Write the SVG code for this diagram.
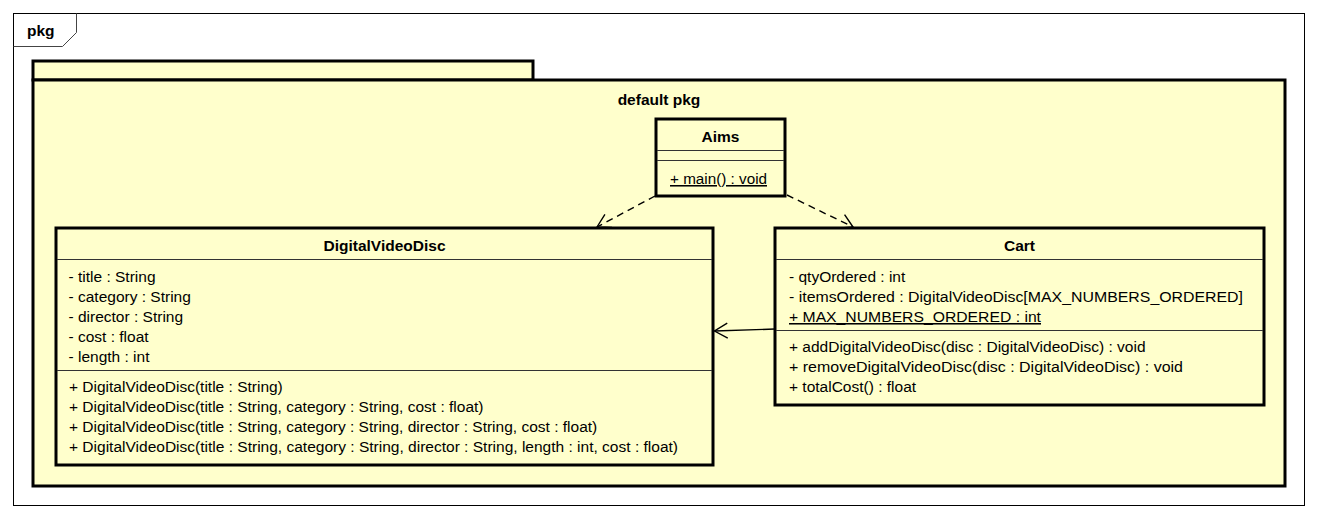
<svg xmlns="http://www.w3.org/2000/svg" width="1317" height="518" viewBox="0 0 1317 518">
<style>
text{font-family:"Liberation Sans",Arial,sans-serif;font-size:15.5px;fill:#000}
.b{font-weight:bold;font-size:15.5px}
.c{text-anchor:middle}
.u{text-decoration:underline}
.box{fill:#FFFFCC;stroke:#000;stroke-width:3}
.sep{stroke:#333;stroke-width:1;fill:none}
.dep{stroke:#000;stroke-width:1.4;fill:none;stroke-dasharray:7,5}
.assoc{stroke:#000;stroke-width:1.4;fill:none}
</style>
<defs>
<marker id="open" markerUnits="userSpaceOnUse" markerWidth="30" markerHeight="30" viewBox="-15 -15 30 30" refX="0" refY="0" orient="auto" overflow="visible">
<path d="M-13,-7.5 L0,0 L-13,7.5" fill="none" stroke="#000" stroke-width="1.4"/>
</marker>
</defs>
<rect width="1317" height="518" fill="#fff"/>
<g id="frame">
<rect x="13.5" y="13.5" width="1291" height="492" fill="#fff" stroke="#000" stroke-width="1"/>
<path d="M13.5,46.5 L62.5,46.5 L76.5,32.5 L76.5,13.5" fill="none" stroke="#444" stroke-width="1"/>
<text class="b" x="27" y="36">pkg</text>
</g>
<g id="package">
<rect class="box" x="33" y="61" width="500" height="19"/>
<rect class="box" x="33" y="80" width="1252" height="406"/>
<text class="b c" x="659" y="105">default pkg</text>
</g>
<g id="Aims">
<rect class="box" x="656" y="119" width="129" height="77"/>
<line class="sep" x1="657" y1="150.5" x2="784" y2="150.5"/>
<line class="sep" x1="657" y1="160.5" x2="784" y2="160.5"/>
<text class="b c" x="720.5" y="142">Aims</text>
<text class="u" x="670" y="184" textLength="97" lengthAdjust="spacingAndGlyphs">+ main() : void</text>
</g>
<g id="DigitalVideoDisc">
<rect class="box" x="56" y="228" width="657" height="237"/>
<line class="sep" x1="57" y1="259.5" x2="712" y2="259.5"/>
<line class="sep" x1="57" y1="370.5" x2="712" y2="370.5"/>
<text class="b c" x="384.5" y="251">DigitalVideoDisc</text>
<text x="68.5" y="282">- title : String</text>
<text x="68.5" y="302">- category : String</text>
<text x="68.5" y="322">- director : String</text>
<text x="68.5" y="342">- cost : float</text>
<text x="68.5" y="362">- length : int</text>
<text x="69" y="392">+ DigitalVideoDisc(title : String)</text>
<text x="69" y="412">+ DigitalVideoDisc(title : String, category : String, cost : float)</text>
<text x="69" y="432">+ DigitalVideoDisc(title : String, category : String, director : String, cost : float)</text>
<text x="69" y="452" textLength="609" lengthAdjust="spacingAndGlyphs">+ DigitalVideoDisc(title : String, category : String, director : String, length : int, cost : float)</text>
</g>
<g id="Cart">
<rect class="box" x="775" y="228" width="489" height="177"/>
<line class="sep" x1="776" y1="259.5" x2="1263" y2="259.5"/>
<line class="sep" x1="776" y1="330.5" x2="1263" y2="330.5"/>
<text class="b c" x="1019.5" y="251">Cart</text>
<text x="789" y="282">- qtyOrdered : int</text>
<text x="789" y="302" textLength="454" lengthAdjust="spacingAndGlyphs">- itemsOrdered : DigitalVideoDisc[MAX_NUMBERS_ORDERED]</text>
<text class="u" x="789" y="322" textLength="252" lengthAdjust="spacingAndGlyphs">+ MAX_NUMBERS_ORDERED : int</text>
<text x="789" y="352">+ addDigitalVideoDisc(disc : DigitalVideoDisc) : void</text>
<text x="789" y="372" textLength="394" lengthAdjust="spacingAndGlyphs">+ removeDigitalVideoDisc(disc : DigitalVideoDisc) : void</text>
<text x="789" y="392">+ totalCost() : float</text>
</g>
<g id="connectors">
<line class="dep" x1="655" y1="196" x2="597" y2="227" marker-end="url(#open)"/>
<line class="dep" x1="787" y1="195" x2="853" y2="227" marker-end="url(#open)"/>
<line class="assoc" x1="775" y1="329" x2="714.5" y2="331" marker-end="url(#open)"/>
</g>
</svg>
